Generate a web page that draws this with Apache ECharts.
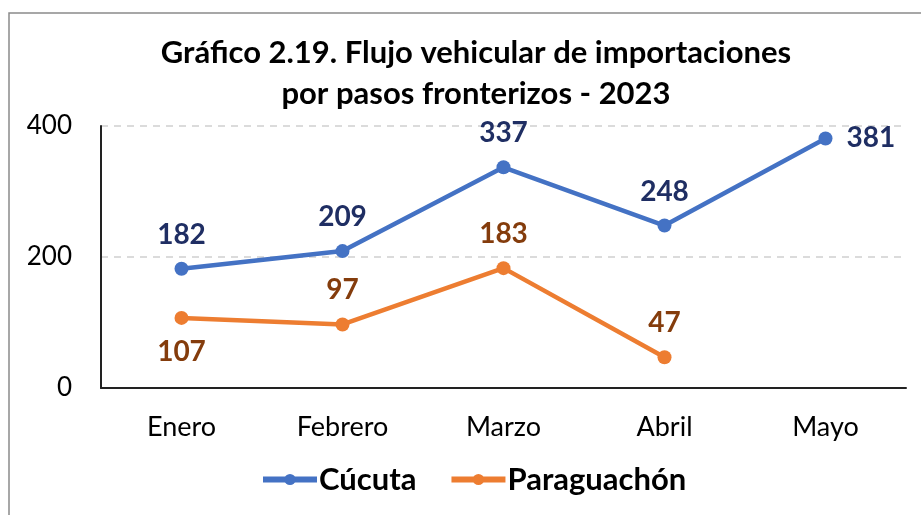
<!DOCTYPE html>
<html lang="es">
<head>
    <meta charset="UTF-8">
    <title>Flujo vehicular de importaciones</title>
    <script src="https://cdn.jsdelivr.net/npm/echarts@6/dist/echarts.min.js"></script>
    <style>
        html, body { margin: 0; padding: 0; background: #fff; }
        #main { width: 921px; height: 515px; }
    </style>
</head>
<body>
<div id="main"></div>
<script type="text/javascript">
  // datos
  var meses = ['Enero', 'Febrero', 'Marzo', 'Abril', 'Mayo'];
  var cucuta = [182, 209, 337, 248, 381];
  var paraguachon = [107, 97, 183, 47, null];
  var yTicks = [0, 200, 400];

  var fuente = 'Lato, "Noto Sans", sans-serif';

  var myChart = echarts.init(document.getElementById('main'));

  // etiquetas de Paraguachon: 107 va debajo, las demas arriba
  var paraData = paraguachon.map(function (v, i) {
    if (v === null) return null;
    var item = {value: v};
    if (i === 0) item.label = {position: 'bottom'};
    return item;
  });
  var cucutaData = cucuta.map(function (v, i) {
    var item = {value: v};
    if (i === cucuta.length - 1) item.label = {position: 'right', distance: 14};
    return item;
  });

  var option = {
    backgroundColor: '#fff',
    animation: false,
    textStyle: {fontFamily: fuente},
    title: {
      text: 'Gráfico 2.19. Flujo vehicular de importaciones\npor pasos fronterizos - 2023',
      left: 471,
      top: 27,
      textAlign: 'center',
      textStyle: {
        fontFamily: fuente,
        fontSize: 31,
        fontWeight: 'bold',
        color: '#000',
        lineHeight: 41
      }
    },
    graphic: [
      {
        type: 'rect',
        shape: {x: 9, y: 13, width: 930, height: 520},
        style: {fill: 'none', stroke: '#8a8a8a', lineWidth: 1.5},
        silent: true
      }
    ],
    legend: {
      top: 459,
      left: 255,
      itemGap: 32,
      itemWidth: 54,
      itemHeight: 14,
      lineStyle: {width: 6},
      textStyle: {fontFamily: fuente, fontSize: 31, fontWeight: 'bold', color: '#000', padding: [0, 0, 0, -3]},
      data: ['Cúcuta', 'Paraguachón']
    },
    grid: {
      left: 101,
      right: 15,
      top: 126,
      height: 262
    },
    xAxis: {
      type: 'category',
      data: meses,
      boundaryGap: true,
      axisLine: {lineStyle: {color: '#222', width: 2}},
      axisTick: {show: false},
      axisLabel: {fontSize: 27, color: '#000', margin: 26, fontFamily: fuente}
    },
    yAxis: {
      type: 'value',
      min: yTicks[0],
      max: yTicks[yTicks.length - 1],
      interval: 200,
      axisLine: {show: true, lineStyle: {color: '#222', width: 2}},
      axisTick: {show: false},
      axisLabel: {fontSize: 26, color: '#000', margin: 29, fontFamily: fuente},
      splitLine: {lineStyle: {color: '#d0d0d0', type: [7, 6], width: 1.5}}
    },
    series: [
      {
        name: 'Cúcuta',
        type: 'line',
        data: cucutaData,
        symbol: 'circle',
        symbolSize: 14,
        color: '#4472C4',
        lineStyle: {width: 4.5, color: '#4472C4'},
        label: {
          show: true,
          position: 'top',
          distance: 13,
          fontSize: 28,
          fontWeight: 'bold',
          color: '#1F2E63',
          fontFamily: fuente
        }
      },
      {
        name: 'Paraguachón',
        type: 'line',
        data: paraData,
        symbol: 'circle',
        symbolSize: 14,
        color: '#ED7D31',
        lineStyle: {width: 4.5, color: '#ED7D31'},
        label: {
          show: true,
          position: 'top',
          distance: 13,
          fontSize: 28,
          fontWeight: 'bold',
          color: '#843C0C',
          fontFamily: fuente
        }
      }
    ]
  };
  myChart.setOption(option);

  window.addEventListener('resize', function () {
    myChart.resize();
  });
</script>
</body>
</html>
